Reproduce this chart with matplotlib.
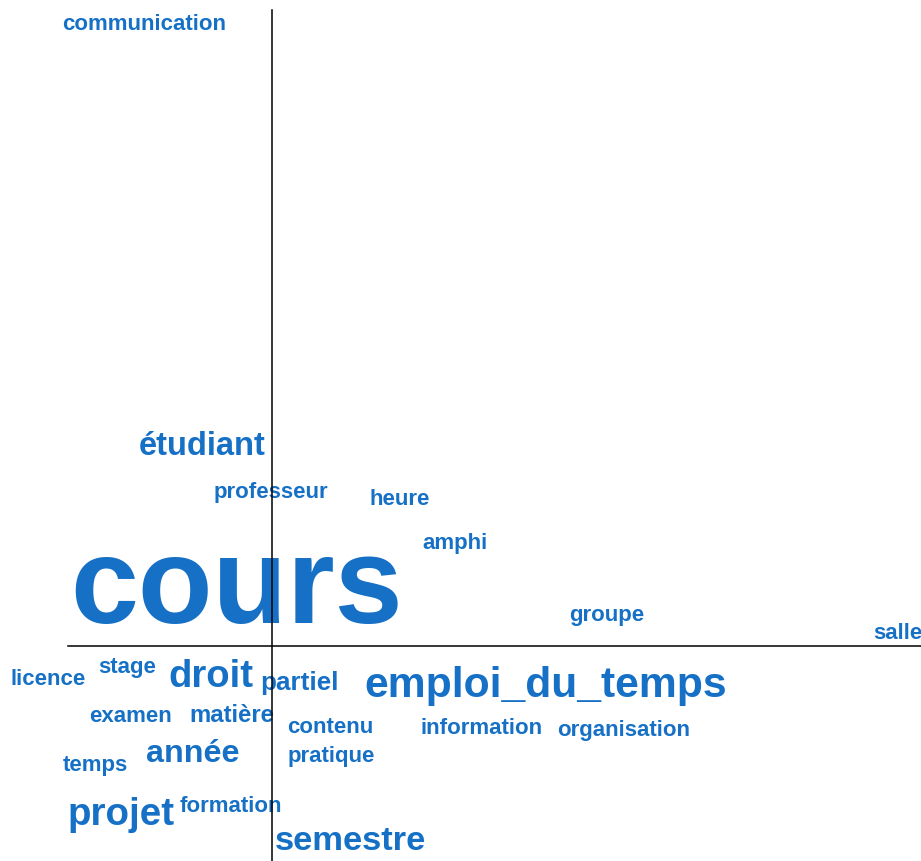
import matplotlib
matplotlib.use('Agg')
from matplotlib import pyplot as plt

# word map: words placed at their factor coordinates, sized by weight
words = ["communication", "étudiant", "professeur", "heure", "amphi", "cours",
         "groupe", "salle", "licence", "stage", "droit", "partiel",
         "emploi_du_temps", "examen", "matière", "contenu", "information",
         "organisation", "temps", "année", "pratique", "projet", "formation",
         "semestre"]
xs = [-0.64, -0.35, -0.005, 0.64, 0.915, -0.175,
      1.675, 3.13, -1.1175, -0.725, -0.3075, 0.135,
      1.3675, -0.71, -0.2, 0.29, 1.05,
      1.76, -0.885, -0.3975, 0.295, -0.7525, -0.205,
      0.3925]
ys = [3.08, 0.955, 0.74, 0.705, 0.485, 0.115,
      0.125, 0.035, -0.195, -0.135, -0.205, -0.22,
      -0.255, -0.38, -0.38, -0.435, -0.44,
      -0.45, -0.625, -0.58, -0.58, -0.895, -0.83,
      -1.02]
sizes = [16, 23.5, 16, 16, 16, 88,
         16, 16, 16, 16, 27.5, 18.7,
         30.7, 16, 17.2, 16, 16,
         16, 16, 23.2, 16, 27.7, 16,
         24.8]

col = '#1570c6'

fig = plt.figure(figsize=(9.21, 8.61), dpi=100)
ax = fig.add_axes([0, 0, 1, 1])
ax.set_xlim(-1.36, 3.245)
ax.set_ylim(-1.075, 3.23)
ax.axis('off')

for w, x, y, s in zip(words, xs, ys, sizes):
    ax.text(x, y, w, ha='center', va='baseline', fontsize=s,
            fontfamily='Liberation Sans', fontweight='bold', color=col, zorder=2)

# axes through origin
ax.plot([-1.02, 3.245], [0, 0], color='black', lw=1.1, zorder=3)
ax.plot([0, 0], [-1.075, 3.18], color='black', lw=1.1, zorder=3)

fig.savefig('out.png', dpi=100)
